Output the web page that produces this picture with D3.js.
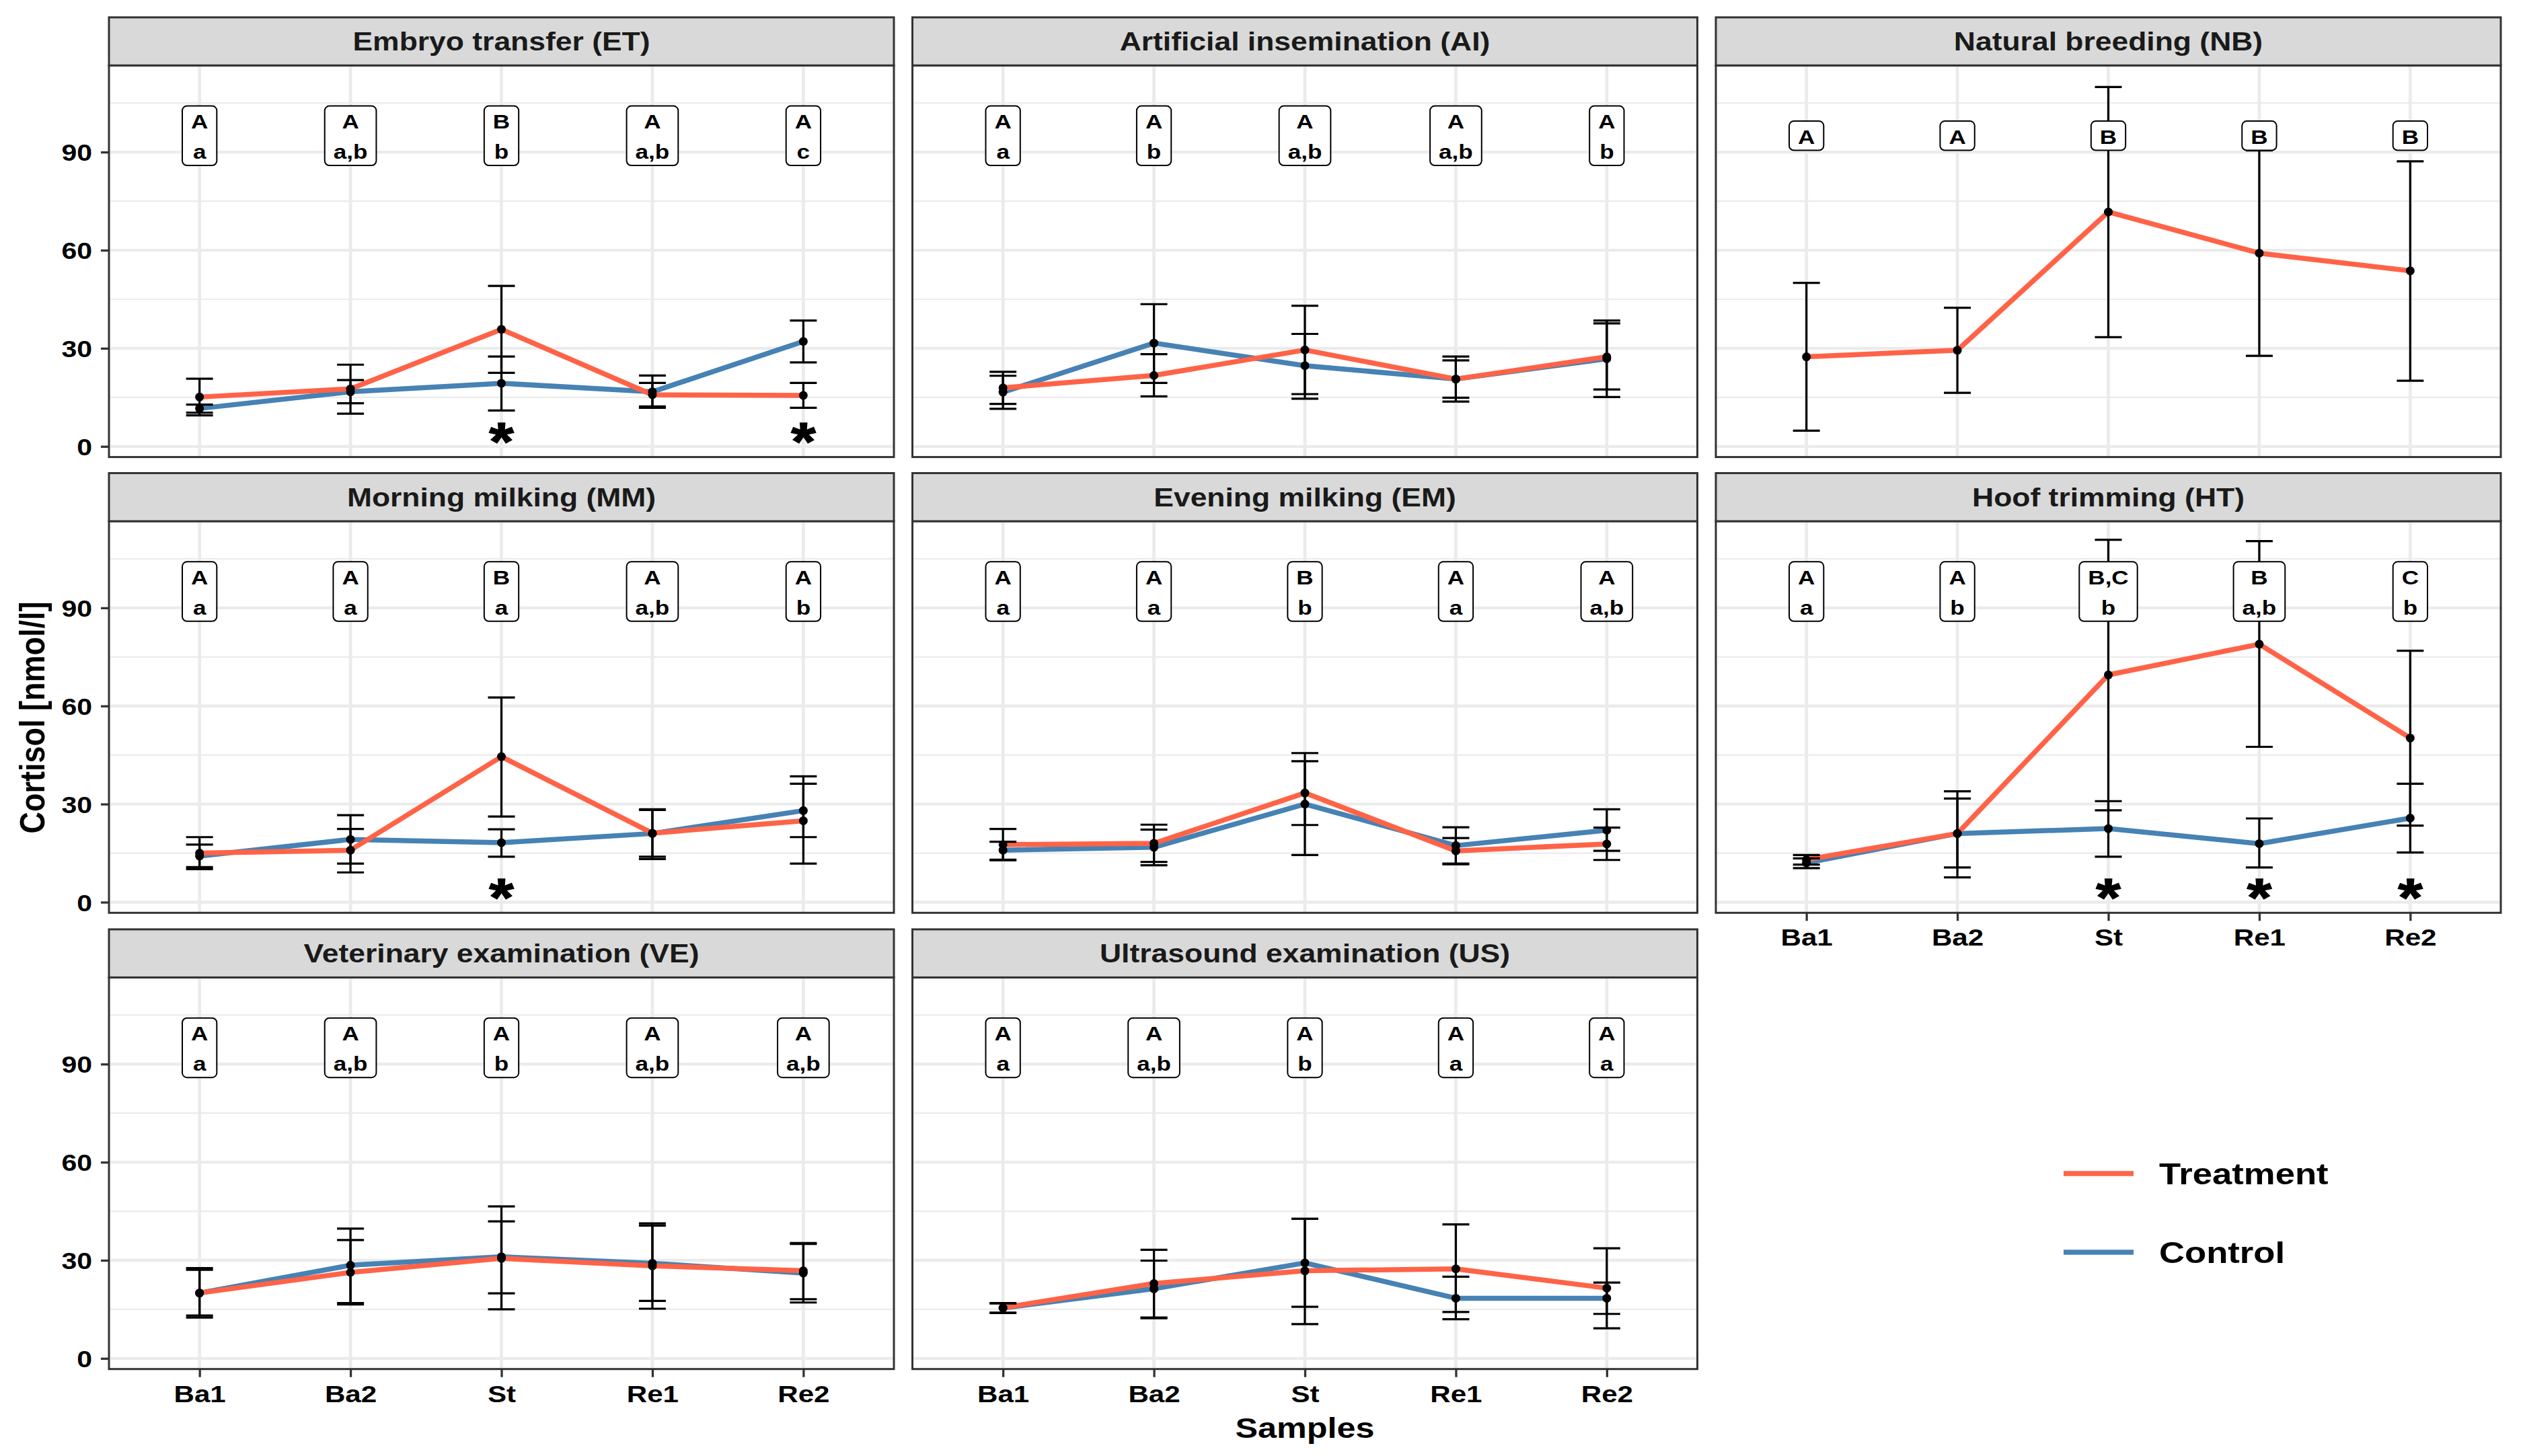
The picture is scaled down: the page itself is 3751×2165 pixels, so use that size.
<!DOCTYPE html>
<html>
<head>
<meta charset="utf-8">
<script src="https://cdn.jsdelivr.net/npm/d3@7"></script>
<style>
  body { margin: 0; background: #fff; }
  text { font-family: "Liberation Sans", Arial, sans-serif; font-weight: bold; }
</style>
</head>
<body>
<div id="chart"></div>
<script>
// ---- data (mean, lower, upper) ----
const samples = ['Ba1', 'Ba2', 'St', 'Re1', 'Re2'];
const yTicks = [0, 30, 60, 90];
const yMinor = [15, 45, 75, 105];
const seriesNames = ['Treatment', 'Control'];
const panelTitles = [
  'Embryo transfer (ET)', 'Artificial insemination (AI)', 'Natural breeding (NB)',
  'Morning milking (MM)', 'Evening milking (EM)', 'Hoof trimming (HT)',
  'Veterinary examination (VE)', 'Ultrasound examination (US)'
];

const ET_treatment = [[15.1, 9.5, 20.7], [17.6, 10.0, 25.0], [35.8, 22.5, 49.1], [15.8, 12.2, 19.4], [15.6, 11.8, 19.4]];
const ET_control   = [[11.6, 10.3, 12.8], [16.7, 13.2, 20.3], [19.3, 11.0, 27.5], [16.7, 11.8, 21.7], [32.1, 25.7, 38.5]];
const ET_letters = ['A\na', 'A\na,b', 'B\nb', 'A\na,b', 'A\nc'];
const ET_stars = ['St', 'Re2'];

const AI_treatment = [[17.9, 13.0, 22.8], [21.7, 15.3, 28.2], [29.5, 16.0, 43.0], [20.6, 13.7, 27.5], [27.4, 17.4, 37.6]];
const AI_control   = [[16.6, 11.5, 21.6], [31.6, 19.4, 43.5], [24.7, 14.6, 34.4], [20.6, 14.9, 26.3], [26.8, 15.1, 38.5]];
const AI_letters = ['A\na', 'A\nb', 'A\na,b', 'A\na,b', 'A\nb'];
const AI_stars = [];

const NB_treatment = [[27.4, 4.8, 50.0], [29.4, 16.4, 42.4], [71.7, 33.4, 109.9], [59.1, 27.7, 90.5], [53.7, 20.1, 87.2]];
const NB_control   = [];
const NB_letters = ['A', 'A', 'B', 'B', 'B'];
const NB_stars = [];

const MM_treatment = [[15.0, 10.1, 19.9], [15.9, 9.1, 22.4], [44.5, 26.2, 62.6], [21.1, 13.9, 28.2], [24.9, 11.8, 38.5]];
const MM_control   = [[14.1, 10.7, 17.6], [19.2, 11.8, 26.6], [18.2, 13.9, 22.3], [21.0, 13.2, 28.4], [28.0, 19.9, 36.2]];
const MM_letters = ['A\na', 'A\na', 'B\na', 'A\na,b', 'A\nb'];
const MM_stars = ['St'];

const EM_treatment = [[17.6, 12.8, 22.4], [18.0, 12.3, 23.7], [33.4, 23.6, 43.1], [15.7, 11.8, 19.6], [17.8, 12.9, 22.8]];
const EM_control   = [[15.9, 13.0, 18.5], [16.8, 11.3, 22.2], [30.0, 14.4, 45.6], [17.3, 11.6, 22.9], [22.0, 15.7, 28.4]];
const EM_letters = ['A\na', 'A\na', 'B\nb', 'A\na', 'A\na,b'];
const EM_stars = [];

const HT_treatment = [[13.0, 11.5, 14.4], [21.0, 7.6, 33.9], [69.5, 28.1, 110.8], [78.9, 47.5, 110.4], [50.2, 23.4, 76.9]];
const HT_control   = [[12.0, 10.4, 13.4], [21.0, 10.6, 31.7], [22.5, 13.9, 30.9], [17.9, 10.6, 25.6], [25.7, 15.2, 36.2]];
const HT_letters = ['A\na', 'A\nb', 'B,C\nb', 'B\na,b', 'C\nb'];
const HT_stars = ['St', 'Re1', 'Re2'];

const VE_treatment = [[20.0, 12.5, 27.6], [26.3, 16.5, 36.2], [30.6, 15.0, 46.5], [28.3, 15.2, 41.3], [26.8, 18.1, 35.3]];
const VE_control   = [[20.0, 13.1, 27.1], [28.5, 16.9, 39.7], [31.1, 19.9, 41.9], [29.1, 17.6, 40.6], [26.1, 17.1, 35.0]];
const VE_letters = ['A\na', 'A\na,b', 'A\nb', 'A\na,b', 'A\na,b'];
const VE_stars = [];

const US_treatment = [[15.5, 13.9, 16.9], [22.9, 12.5, 33.2], [26.8, 10.5, 42.7], [27.4, 14.2, 41.0], [21.5, 9.2, 33.7]];
const US_control   = [[15.4, 14.0, 16.8], [21.3, 12.3, 29.9], [29.2, 15.8, 42.7], [18.4, 12.0, 25.0], [18.4, 13.6, 23.2]];
const US_letters = ['A\na', 'A\na,b', 'A\nb', 'A\na', 'A\na'];
const US_stars = [];

// ---- layout ----
const W = 3751, H = 2165;
const SX = 1.17; // horizontal stretch of the source image text
const colX = [162, 1356.5, 2551];
const rowTop = [97.3, 775, 1453.4];
const panelW = 1167, panelH = 582.3, stripH = 71.5;
const colors = { Treatment: '#FF6347', Control: '#4682B4' };

const panels = [
  { t: panelTitles[0], tr: ET_treatment, ct: ET_control, lab: ET_letters, st: ET_stars, c: 0, r: 0, xa: false },
  { t: panelTitles[1], tr: AI_treatment, ct: AI_control, lab: AI_letters, st: AI_stars, c: 1, r: 0, xa: false },
  { t: panelTitles[2], tr: NB_treatment, ct: NB_control, lab: NB_letters, st: NB_stars, c: 2, r: 0, xa: false },
  { t: panelTitles[3], tr: MM_treatment, ct: MM_control, lab: MM_letters, st: MM_stars, c: 0, r: 1, xa: false },
  { t: panelTitles[4], tr: EM_treatment, ct: EM_control, lab: EM_letters, st: EM_stars, c: 1, r: 1, xa: false },
  { t: panelTitles[5], tr: HT_treatment, ct: HT_control, lab: HT_letters, st: HT_stars, c: 2, r: 1, xa: true },
  { t: panelTitles[6], tr: VE_treatment, ct: VE_control, lab: VE_letters, st: VE_stars, c: 0, r: 2, xa: true },
  { t: panelTitles[7], tr: US_treatment, ct: US_control, lab: US_letters, st: US_stars, c: 1, r: 2, xa: true }
];

const svg = d3.select('#chart').append('svg').attr('width', W).attr('height', H);

const x = d3.scalePoint().domain(samples).range([0, panelW]).padding(0.6);
const y = d3.scaleLinear().domain([-3.25, 116.5]).range([panelH, 0]);

function stretchText(g, px, py, str, size, anchor) {
  return g.append('text')
    .attr('transform', `translate(${px},${py}) scale(${SX},1)`)
    .attr('text-anchor', anchor || 'middle')
    .style('font-size', size + 'px')
    .text(str);
}

panels.forEach((p) => {
  const g = svg.append('g').attr('transform', `translate(${colX[p.c]},${rowTop[p.r]})`);

  // grid
  g.append('rect').attr('width', panelW).attr('height', panelH).attr('fill', '#fff');
  g.selectAll('.minor').data(yMinor).enter().append('line')
    .attr('x1', 0).attr('x2', panelW).attr('y1', (d) => y(d)).attr('y2', (d) => y(d))
    .attr('stroke', '#EBEBEB').attr('stroke-width', 2.2);
  g.selectAll('.major').data(yTicks).enter().append('line')
    .attr('x1', 0).attr('x2', panelW).attr('y1', (d) => y(d)).attr('y2', (d) => y(d))
    .attr('stroke', '#EBEBEB').attr('stroke-width', 4.3);
  g.selectAll('.vmajor').data(samples).enter().append('line')
    .attr('x1', (d) => x(d)).attr('x2', (d) => x(d)).attr('y1', 0).attr('y2', panelH)
    .attr('stroke', '#EBEBEB').attr('stroke-width', 4.8);

  // lines: control first, treatment on top
  const line = d3.line().x((d, i) => x(samples[i])).y((d) => y(d[0]));
  [['Control', p.ct], ['Treatment', p.tr]].forEach(([name, data]) => {
    if (!data.length) return;
    g.append('path').datum(data).attr('d', line)
      .attr('fill', 'none').attr('stroke', colors[name]).attr('stroke-width', 7.5)
      .attr('stroke-linejoin', 'round');
  });

  // error bars and points
  const cap = 20;
  [p.ct, p.tr].forEach((data) => {
    data.forEach((d, i) => {
      const cx = x(samples[i]);
      const eb = g.append('g').attr('stroke', '#000').attr('stroke-width', 3.2);
      eb.append('line').attr('x1', cx).attr('x2', cx).attr('y1', y(d[1])).attr('y2', y(d[2]));
      eb.append('line').attr('x1', cx - cap).attr('x2', cx + cap).attr('y1', y(d[1])).attr('y2', y(d[1]));
      eb.append('line').attr('x1', cx - cap).attr('x2', cx + cap).attr('y1', y(d[2])).attr('y2', y(d[2]));
    });
  });
  [p.ct, p.tr].forEach((data) => {
    g.selectAll(null).data(data).enter().append('circle')
      .attr('cx', (d, i) => x(samples[i])).attr('cy', (d) => y(d[0]))
      .attr('r', 6.5).attr('fill', '#000');
  });

  // letter labels
  p.lab.forEach((lab, i) => {
    const lines = lab.split('\n');
    const capH = 21.5, gap = 45, padT = 12, padB = 10;
    const bh = padT + capH + (lines.length - 1) * gap + padB;
    const cy = y(95);
    const top = cy - bh / 2;
    const lg = g.append('g');
    const rect = lg.append('rect');
    let maxW = 0;
    lines.forEach((s, k) => {
      const t = stretchText(lg, x(samples[i]), top + padT + capH + k * gap, s, 30);
      t.attr('fill', '#000');
      maxW = Math.max(maxW, t.node().getComputedTextLength() * SX);
    });
    const bw = maxW + 26;
    rect.attr('x', x(samples[i]) - bw / 2).attr('y', top).attr('width', bw).attr('height', bh)
      .attr('rx', 7).attr('ry', 7).attr('fill', '#fff').attr('stroke', '#000').attr('stroke-width', 2);
  });

  // significance stars
  p.st.forEach((s) => {
    stretchText(g, x(s), y(5.3) + 46, '*', 80)
      .attr('fill', '#000').attr('stroke', '#000').attr('stroke-width', 1.5);
  });

  // border
  g.append('rect').attr('width', panelW).attr('height', panelH)
    .attr('fill', 'none').attr('stroke', '#333333').attr('stroke-width', 3);

  // strip
  const sg = svg.append('g').attr('transform', `translate(${colX[p.c]},${rowTop[p.r] - stripH})`);
  sg.append('rect').attr('width', panelW).attr('height', stripH)
    .attr('fill', '#D9D9D9').attr('stroke', '#333333').attr('stroke-width', 3);
  stretchText(sg, panelW / 2, stripH / 2 + 13.5, p.t, 38).attr('fill', '#1A1A1A');

  // y axis
  if (p.c === 0) {
    const ya = g.append('g').call(d3.axisLeft(y).tickValues(yTicks).tickSize(12));
    ya.select('.domain').remove();
    ya.selectAll('.tick line').attr('stroke', '#333333').attr('stroke-width', 3.3);
    ya.selectAll('.tick text')
      .attr('x', 0).attr('dy', null).attr('y', 12.5)
      .attr('transform', `translate(-25,0) scale(${SX},1)`)
      .attr('fill', '#000').style('font-size', '35px').style('font-family', null);
  }

  // x axis
  if (p.xa) {
    const xa = g.append('g').attr('transform', `translate(0,${panelH})`)
      .call(d3.axisBottom(x).tickSize(12));
    xa.select('.domain').remove();
    xa.selectAll('.tick line').attr('stroke', '#333333').attr('stroke-width', 3.3);
    xa.selectAll('.tick text')
      .attr('y', 49).attr('dy', null)
      .attr('transform', `scale(${SX},1)`)
      .attr('fill', '#000').style('font-size', '36px').style('font-family', null);
  }
});

// axis titles
stretchText(svg, 1940, 2138, 'Samples', 43).attr('fill', '#000');
svg.append('text')
  .attr('transform', `translate(66,1067) scale(${SX},1) rotate(-90)`)
  .attr('text-anchor', 'middle').style('font-size', '45px').attr('fill', '#000')
  .text('Cortisol [nmol/l]');

// legend
const legY = [1745, 1862];
seriesNames.forEach((name, i) => {
  svg.append('line').attr('x1', 3068).attr('x2', 3172).attr('y1', legY[i]).attr('y2', legY[i])
    .attr('stroke', colors[name]).attr('stroke-width', 7.5);
  stretchText(svg, 3210, legY[i] + 16, name, 45, 'start').attr('fill', '#000');
});
</script>
</body>
</html>
